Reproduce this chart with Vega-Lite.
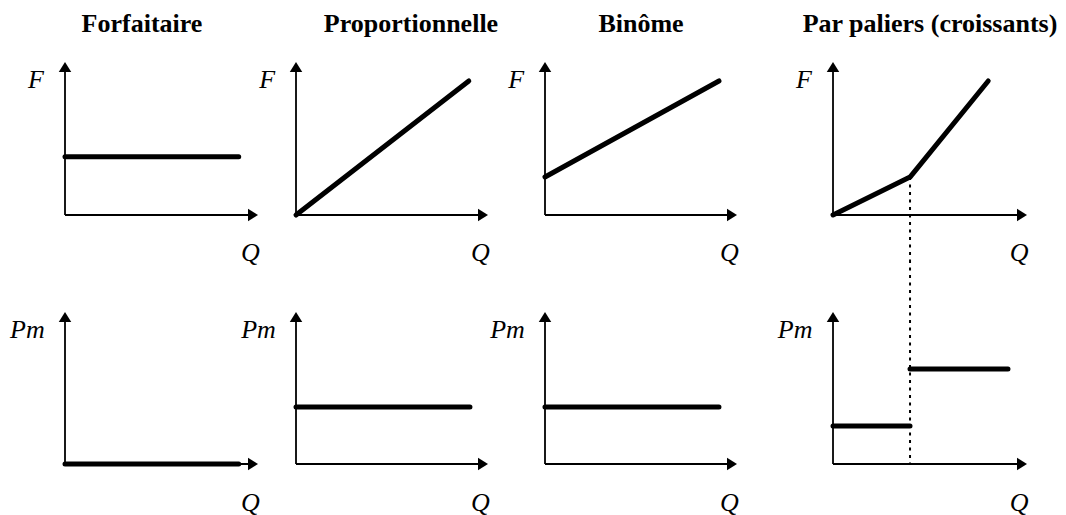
{
  "$schema": "https://vega.github.io/schema/vega-lite/v6.json",
  "padding": 0,
  "bounds": "flush",
  "spacing": 0,
  "columns": 4,
  "background": "white",
  "config": {"view": {"stroke": null}, "concat": {"spacing": 0}},
  "datasets": {
    "axes": [
      {"x": 0, "y": 0, "x2": 9.8, "y2": 0},
      {"x": 0, "y": 0, "x2": 0, "y2": 9.8}
    ],
    "arrows": [
      {"dir": "right", "x": 10, "y": 0},
      {"dir": "up", "x": 0, "y": 10}
    ],
    "curves": [
      {"panel": "F1", "seg": "a", "order": 1, "x": 0, "y": 3.8},
      {"panel": "F1", "seg": "a", "order": 2, "x": 9.0, "y": 3.8},
      {"panel": "F2", "seg": "a", "order": 1, "x": 0, "y": 0},
      {"panel": "F2", "seg": "a", "order": 2, "x": 9.0, "y": 8.76},
      {"panel": "F3", "seg": "a", "order": 1, "x": 0, "y": 2.48},
      {"panel": "F3", "seg": "a", "order": 2, "x": 9.06, "y": 8.76},
      {"panel": "F4", "seg": "a", "order": 1, "x": 0, "y": 0},
      {"panel": "F4", "seg": "a", "order": 2, "x": 3.97, "y": 2.48},
      {"panel": "F4", "seg": "a", "order": 3, "x": 8.0, "y": 8.76},
      {"panel": "P1", "seg": "a", "order": 1, "x": 0, "y": 0},
      {"panel": "P1", "seg": "a", "order": 2, "x": 9.0, "y": 0},
      {"panel": "P2", "seg": "a", "order": 1, "x": 0, "y": 3.75},
      {"panel": "P2", "seg": "a", "order": 2, "x": 9.06, "y": 3.75},
      {"panel": "P3", "seg": "a", "order": 1, "x": 0, "y": 3.75},
      {"panel": "P3", "seg": "a", "order": 2, "x": 9.06, "y": 3.75},
      {"panel": "P4", "seg": "a", "order": 1, "x": 0, "y": 2.5},
      {"panel": "P4", "seg": "a", "order": 2, "x": 3.97, "y": 2.5},
      {"panel": "P4", "seg": "b", "order": 1, "x": 3.97, "y": 6.25},
      {"panel": "P4", "seg": "b", "order": 2, "x": 9.02, "y": 6.25}
    ],
    "dotted": [
      {"panel": "F4", "x": 3.97, "y": 2.48, "y2": -2.941},
      {"panel": "P4", "x": 3.97, "y": 13.421, "y2": 0}
    ],
    "labels": [
      {"panel": "F1", "label": "F", "x": -1.5, "y": 8.3},
      {"panel": "F1", "label": "Q", "x": 9.6, "y": -3.0},
      {"panel": "F2", "label": "F", "x": -1.5, "y": 8.3},
      {"panel": "F2", "label": "Q", "x": 9.6, "y": -3.0},
      {"panel": "F3", "label": "F", "x": -1.5, "y": 8.3},
      {"panel": "F3", "label": "Q", "x": 9.6, "y": -3.0},
      {"panel": "F4", "label": "F", "x": -1.5, "y": 8.3},
      {"panel": "F4", "label": "Q", "x": 9.6, "y": -3.0},
      {"panel": "P1", "label": "Pm", "x": -1.95, "y": 8.3},
      {"panel": "P1", "label": "Q", "x": 9.6, "y": -3.1},
      {"panel": "P2", "label": "Pm", "x": -1.95, "y": 8.3},
      {"panel": "P2", "label": "Q", "x": 9.6, "y": -3.1},
      {"panel": "P3", "label": "Pm", "x": -1.95, "y": 8.3},
      {"panel": "P3", "label": "Q", "x": 9.6, "y": -3.1},
      {"panel": "P4", "label": "Pm", "x": -1.95, "y": 8.3},
      {"panel": "P4", "label": "Q", "x": 9.6, "y": -3.1}
    ],
    "titles": [
      {"panel": "F1", "title": "Forfaitaire", "x": 3.99, "y": 11.96},
      {"panel": "F2", "title": "Proportionnelle", "x": 5.99, "y": 11.96},
      {"panel": "F3", "title": "Binôme", "x": 5.0, "y": 11.96},
      {"panel": "F4", "title": "Par paliers (croissants)", "x": 5.0, "y": 11.96}
    ]
  },
  "concat": [
    {
      "width": 275, "height": 260,
      "encoding": {
        "x": {"field": "x", "type": "quantitative", "scale": {"domain": [-3.368, 10.881], "nice": false, "zero": false}, "axis": null},
        "y": {"field": "y", "type": "quantitative", "scale": {"domain": [-2.941, 14.052], "nice": false, "zero": false}, "axis": null}
      },
      "layer": [
        {"data": {"name": "axes"}, "mark": {"type": "rule", "strokeWidth": 1.8, "color": "black"}, "encoding": {"x2": {"field": "x2"}, "y2": {"field": "y2"}}},
        {"data": {"name": "arrows"}, "mark": {"type": "point", "filled": true, "opacity": 1, "color": "black", "strokeWidth": 0, "size": 156}, "encoding": {"shape": {"field": "dir", "type": "nominal", "scale": {"domain": ["right", "up"], "range": ["M0,0L-1.6,-1L-1.6,1Z", "M0,0L-1,1.6L1,1.6Z"]}, "legend": null}}},
        {"data": {"name": "curves"}, "transform": [{"filter": "datum.panel === 'F1'"}], "mark": {"type": "line", "strokeWidth": 5, "strokeCap": "round", "strokeJoin": "round", "color": "black"}, "encoding": {"detail": {"field": "seg"}, "order": {"field": "order", "type": "quantitative"}}},
        {"data": {"name": "labels"}, "transform": [{"filter": "datum.panel === 'F1'"}], "mark": {"type": "text", "font": "Liberation Serif", "fontStyle": "italic", "fontSize": 26, "baseline": "alphabetic", "align": "center", "color": "black"}, "encoding": {"text": {"field": "label"}}},
        {"data": {"name": "titles"}, "transform": [{"filter": "datum.panel === 'F1'"}], "mark": {"type": "text", "font": "Liberation Serif", "fontWeight": "bold", "fontSize": 26, "baseline": "alphabetic", "align": "center", "color": "black"}, "encoding": {"text": {"field": "title"}}}
      ]
    },
    {
      "width": 245, "height": 260,
      "encoding": {
        "x": {"field": "x", "type": "quantitative", "scale": {"domain": [-1.094, 11.667], "nice": false, "zero": false}, "axis": null},
        "y": {"field": "y", "type": "quantitative", "scale": {"domain": [-2.941, 14.052], "nice": false, "zero": false}, "axis": null}
      },
      "layer": [
        {"data": {"name": "axes"}, "mark": {"type": "rule", "strokeWidth": 1.8, "color": "black"}, "encoding": {"x2": {"field": "x2"}, "y2": {"field": "y2"}}},
        {"data": {"name": "arrows"}, "mark": {"type": "point", "filled": true, "opacity": 1, "color": "black", "strokeWidth": 0, "size": 156}, "encoding": {"shape": {"field": "dir", "type": "nominal", "scale": {"domain": ["right", "up"], "range": ["M0,0L-1.6,-1L-1.6,1Z", "M0,0L-1,1.6L1,1.6Z"]}, "legend": null}}},
        {"data": {"name": "curves"}, "transform": [{"filter": "datum.panel === 'F2'"}], "mark": {"type": "line", "strokeWidth": 5, "strokeCap": "round", "strokeJoin": "round", "color": "black"}, "encoding": {"detail": {"field": "seg"}, "order": {"field": "order", "type": "quantitative"}}},
        {"data": {"name": "labels"}, "transform": [{"filter": "datum.panel === 'F2'"}], "mark": {"type": "text", "font": "Liberation Serif", "fontStyle": "italic", "fontSize": 26, "baseline": "alphabetic", "align": "center", "color": "black"}, "encoding": {"text": {"field": "label"}}},
        {"data": {"name": "titles"}, "transform": [{"filter": "datum.panel === 'F2'"}], "mark": {"type": "text", "font": "Liberation Serif", "fontWeight": "bold", "fontSize": 26, "baseline": "alphabetic", "align": "center", "color": "black"}, "encoding": {"text": {"field": "title"}}}
      ]
    },
    {
      "width": 255, "height": 260,
      "encoding": {
        "x": {"field": "x", "type": "quantitative", "scale": {"domain": [-1.302, 11.979], "nice": false, "zero": false}, "axis": null},
        "y": {"field": "y", "type": "quantitative", "scale": {"domain": [-2.941, 14.052], "nice": false, "zero": false}, "axis": null}
      },
      "layer": [
        {"data": {"name": "axes"}, "mark": {"type": "rule", "strokeWidth": 1.8, "color": "black"}, "encoding": {"x2": {"field": "x2"}, "y2": {"field": "y2"}}},
        {"data": {"name": "arrows"}, "mark": {"type": "point", "filled": true, "opacity": 1, "color": "black", "strokeWidth": 0, "size": 156}, "encoding": {"shape": {"field": "dir", "type": "nominal", "scale": {"domain": ["right", "up"], "range": ["M0,0L-1.6,-1L-1.6,1Z", "M0,0L-1,1.6L1,1.6Z"]}, "legend": null}}},
        {"data": {"name": "curves"}, "transform": [{"filter": "datum.panel === 'F3'"}], "mark": {"type": "line", "strokeWidth": 5, "strokeCap": "round", "strokeJoin": "round", "color": "black"}, "encoding": {"detail": {"field": "seg"}, "order": {"field": "order", "type": "quantitative"}}},
        {"data": {"name": "labels"}, "transform": [{"filter": "datum.panel === 'F3'"}], "mark": {"type": "text", "font": "Liberation Serif", "fontStyle": "italic", "fontSize": 26, "baseline": "alphabetic", "align": "center", "color": "black"}, "encoding": {"text": {"field": "label"}}},
        {"data": {"name": "titles"}, "transform": [{"filter": "datum.panel === 'F3'"}], "mark": {"type": "text", "font": "Liberation Serif", "fontWeight": "bold", "fontSize": 26, "baseline": "alphabetic", "align": "center", "color": "black"}, "encoding": {"text": {"field": "title"}}}
      ]
    },
    {
      "width": 291, "height": 260,
      "encoding": {
        "x": {"field": "x", "type": "quantitative", "scale": {"domain": [-2.99, 12.01], "nice": false, "zero": false}, "axis": null},
        "y": {"field": "y", "type": "quantitative", "scale": {"domain": [-2.941, 14.052], "nice": false, "zero": false}, "axis": null}
      },
      "layer": [
        {"data": {"name": "axes"}, "mark": {"type": "rule", "strokeWidth": 1.8, "color": "black"}, "encoding": {"x2": {"field": "x2"}, "y2": {"field": "y2"}}},
        {"data": {"name": "arrows"}, "mark": {"type": "point", "filled": true, "opacity": 1, "color": "black", "strokeWidth": 0, "size": 156}, "encoding": {"shape": {"field": "dir", "type": "nominal", "scale": {"domain": ["right", "up"], "range": ["M0,0L-1.6,-1L-1.6,1Z", "M0,0L-1,1.6L1,1.6Z"]}, "legend": null}}},
        {"data": {"name": "dotted"}, "transform": [{"filter": "datum.panel === 'F4'"}], "mark": {"type": "rule", "strokeWidth": 2, "strokeDash": [3, 4.5], "color": "black"}, "encoding": {"y2": {"field": "y2"}}},
        {"data": {"name": "curves"}, "transform": [{"filter": "datum.panel === 'F4'"}], "mark": {"type": "line", "strokeWidth": 5, "strokeCap": "round", "strokeJoin": "round", "color": "black"}, "encoding": {"detail": {"field": "seg"}, "order": {"field": "order", "type": "quantitative"}}},
        {"data": {"name": "labels"}, "transform": [{"filter": "datum.panel === 'F4'"}], "mark": {"type": "text", "font": "Liberation Serif", "fontStyle": "italic", "fontSize": 26, "baseline": "alphabetic", "align": "center", "color": "black"}, "encoding": {"text": {"field": "label"}}},
        {"data": {"name": "titles"}, "transform": [{"filter": "datum.panel === 'F4'"}], "mark": {"type": "text", "font": "Liberation Serif", "fontWeight": "bold", "fontSize": 26, "baseline": "alphabetic", "align": "center", "color": "black"}, "encoding": {"text": {"field": "title"}}}
      ]
    },
    {
      "width": 275, "height": 255,
      "encoding": {
        "x": {"field": "x", "type": "quantitative", "scale": {"domain": [-3.368, 10.881], "nice": false, "zero": false}, "axis": null},
        "y": {"field": "y", "type": "quantitative", "scale": {"domain": [-3.355, 13.421], "nice": false, "zero": false}, "axis": null}
      },
      "layer": [
        {"data": {"name": "axes"}, "mark": {"type": "rule", "strokeWidth": 1.8, "color": "black"}, "encoding": {"x2": {"field": "x2"}, "y2": {"field": "y2"}}},
        {"data": {"name": "arrows"}, "mark": {"type": "point", "filled": true, "opacity": 1, "color": "black", "strokeWidth": 0, "size": 156}, "encoding": {"shape": {"field": "dir", "type": "nominal", "scale": {"domain": ["right", "up"], "range": ["M0,0L-1.6,-1L-1.6,1Z", "M0,0L-1,1.6L1,1.6Z"]}, "legend": null}}},
        {"data": {"name": "curves"}, "transform": [{"filter": "datum.panel === 'P1'"}], "mark": {"type": "line", "strokeWidth": 5, "strokeCap": "round", "strokeJoin": "round", "color": "black"}, "encoding": {"detail": {"field": "seg"}, "order": {"field": "order", "type": "quantitative"}}},
        {"data": {"name": "labels"}, "transform": [{"filter": "datum.panel === 'P1'"}], "mark": {"type": "text", "font": "Liberation Serif", "fontStyle": "italic", "fontSize": 26, "baseline": "alphabetic", "align": "center", "color": "black"}, "encoding": {"text": {"field": "label"}}}
      ]
    },
    {
      "width": 245, "height": 255,
      "encoding": {
        "x": {"field": "x", "type": "quantitative", "scale": {"domain": [-1.094, 11.667], "nice": false, "zero": false}, "axis": null},
        "y": {"field": "y", "type": "quantitative", "scale": {"domain": [-3.355, 13.421], "nice": false, "zero": false}, "axis": null}
      },
      "layer": [
        {"data": {"name": "axes"}, "mark": {"type": "rule", "strokeWidth": 1.8, "color": "black"}, "encoding": {"x2": {"field": "x2"}, "y2": {"field": "y2"}}},
        {"data": {"name": "arrows"}, "mark": {"type": "point", "filled": true, "opacity": 1, "color": "black", "strokeWidth": 0, "size": 156}, "encoding": {"shape": {"field": "dir", "type": "nominal", "scale": {"domain": ["right", "up"], "range": ["M0,0L-1.6,-1L-1.6,1Z", "M0,0L-1,1.6L1,1.6Z"]}, "legend": null}}},
        {"data": {"name": "curves"}, "transform": [{"filter": "datum.panel === 'P2'"}], "mark": {"type": "line", "strokeWidth": 5, "strokeCap": "round", "strokeJoin": "round", "color": "black"}, "encoding": {"detail": {"field": "seg"}, "order": {"field": "order", "type": "quantitative"}}},
        {"data": {"name": "labels"}, "transform": [{"filter": "datum.panel === 'P2'"}], "mark": {"type": "text", "font": "Liberation Serif", "fontStyle": "italic", "fontSize": 26, "baseline": "alphabetic", "align": "center", "color": "black"}, "encoding": {"text": {"field": "label"}}}
      ]
    },
    {
      "width": 255, "height": 255,
      "encoding": {
        "x": {"field": "x", "type": "quantitative", "scale": {"domain": [-1.302, 11.979], "nice": false, "zero": false}, "axis": null},
        "y": {"field": "y", "type": "quantitative", "scale": {"domain": [-3.355, 13.421], "nice": false, "zero": false}, "axis": null}
      },
      "layer": [
        {"data": {"name": "axes"}, "mark": {"type": "rule", "strokeWidth": 1.8, "color": "black"}, "encoding": {"x2": {"field": "x2"}, "y2": {"field": "y2"}}},
        {"data": {"name": "arrows"}, "mark": {"type": "point", "filled": true, "opacity": 1, "color": "black", "strokeWidth": 0, "size": 156}, "encoding": {"shape": {"field": "dir", "type": "nominal", "scale": {"domain": ["right", "up"], "range": ["M0,0L-1.6,-1L-1.6,1Z", "M0,0L-1,1.6L1,1.6Z"]}, "legend": null}}},
        {"data": {"name": "curves"}, "transform": [{"filter": "datum.panel === 'P3'"}], "mark": {"type": "line", "strokeWidth": 5, "strokeCap": "round", "strokeJoin": "round", "color": "black"}, "encoding": {"detail": {"field": "seg"}, "order": {"field": "order", "type": "quantitative"}}},
        {"data": {"name": "labels"}, "transform": [{"filter": "datum.panel === 'P3'"}], "mark": {"type": "text", "font": "Liberation Serif", "fontStyle": "italic", "fontSize": 26, "baseline": "alphabetic", "align": "center", "color": "black"}, "encoding": {"text": {"field": "label"}}}
      ]
    },
    {
      "width": 291, "height": 255,
      "encoding": {
        "x": {"field": "x", "type": "quantitative", "scale": {"domain": [-2.99, 12.01], "nice": false, "zero": false}, "axis": null},
        "y": {"field": "y", "type": "quantitative", "scale": {"domain": [-3.355, 13.421], "nice": false, "zero": false}, "axis": null}
      },
      "layer": [
        {"data": {"name": "axes"}, "mark": {"type": "rule", "strokeWidth": 1.8, "color": "black"}, "encoding": {"x2": {"field": "x2"}, "y2": {"field": "y2"}}},
        {"data": {"name": "arrows"}, "mark": {"type": "point", "filled": true, "opacity": 1, "color": "black", "strokeWidth": 0, "size": 156}, "encoding": {"shape": {"field": "dir", "type": "nominal", "scale": {"domain": ["right", "up"], "range": ["M0,0L-1.6,-1L-1.6,1Z", "M0,0L-1,1.6L1,1.6Z"]}, "legend": null}}},
        {"data": {"name": "dotted"}, "transform": [{"filter": "datum.panel === 'P4'"}], "mark": {"type": "rule", "strokeWidth": 2, "strokeDash": [3, 4.5], "color": "black"}, "encoding": {"y2": {"field": "y2"}}},
        {"data": {"name": "curves"}, "transform": [{"filter": "datum.panel === 'P4'"}], "mark": {"type": "line", "strokeWidth": 5, "strokeCap": "round", "strokeJoin": "round", "color": "black"}, "encoding": {"detail": {"field": "seg"}, "order": {"field": "order", "type": "quantitative"}}},
        {"data": {"name": "labels"}, "transform": [{"filter": "datum.panel === 'P4'"}], "mark": {"type": "text", "font": "Liberation Serif", "fontStyle": "italic", "fontSize": 26, "baseline": "alphabetic", "align": "center", "color": "black"}, "encoding": {"text": {"field": "label"}}}
      ]
    }
  ]
}
